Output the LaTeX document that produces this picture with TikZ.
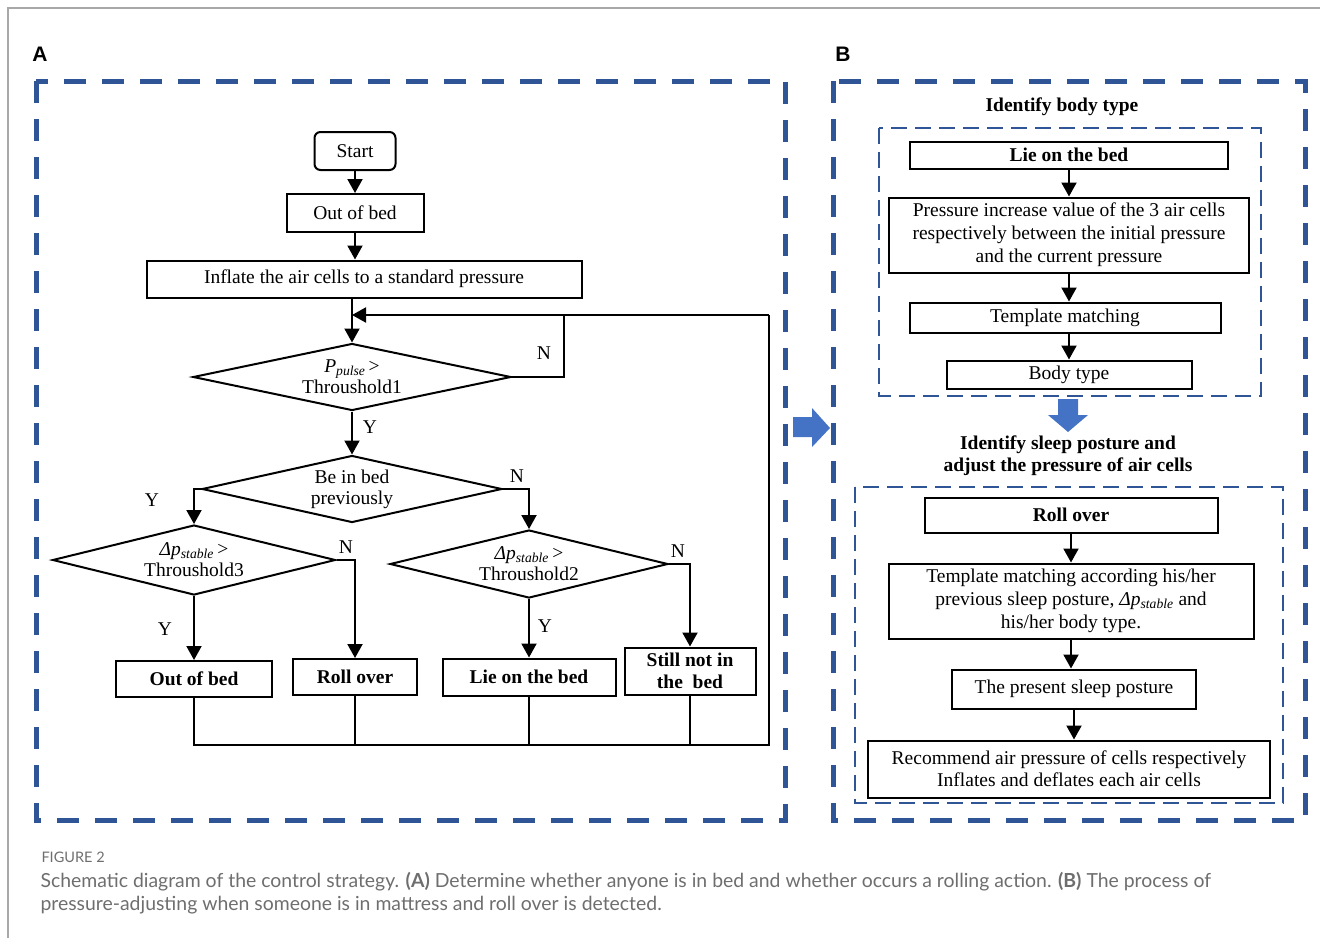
\documentclass[tikz,border=0pt]{standalone}
\usepackage{fontspec}
\setmainfont{Liberation Serif}
\newfontfamily\capfont{Lato}
\newfontfamily\labfont{Liberation Sans}
\usepackage{tikz}
\usetikzlibrary{arrows.meta, positioning, shapes.geometric}
\definecolor{azul}{HTML}{2F5597}
\definecolor{azulclaro}{HTML}{4472C4}
\definecolor{gris}{HTML}{6E6E6E}
\newcommand{\pestable}{\textit{Δp}\textsubscript{\textit{stable}}}

\begin{document}
\begin{tikzpicture}[
  x=1pt, y=-1pt,
  font=\fontsize{19.5}{22}\selectfont,
  caja/.style={rectangle, draw, line width=2pt, align=center, inner sep=0pt},
  cajab/.style={caja, font=\fontsize{19.5}{22}\selectfont\bfseries},
  inicio/.style={caja, rounded corners=6pt},
  rombo/.style={diamond, draw, line width=2pt, aspect=4.5, inner sep=0pt, align=center,
    font=\fontsize{19.5}{21}\selectfont},
  flecha/.style={-{Triangle[length=14pt, width=15pt]}, line width=2pt},
  linea/.style={line width=2pt},
  marco/.style={draw=azul, line width=5pt, dash pattern=on 22pt off 16pt},
  grupo/.style={draw=azul, line width=2.2pt, dash pattern=on 16pt off 8pt},
  bloque/.style={fill=azulclaro},
  etiq/.style={font=\fontsize{19.5}{22}\selectfont},
]
\useasboundingbox (0,0) rectangle (1320,938);
\draw[gris!60, line width=1.5pt] (8,938) -- (8,8) -- (1320,8);

% Rotulos de panel
\node[font=\labfont\fontsize{21}{24}\selectfont\bfseries] (letraA) at (40,54) {A};
\node[font=\labfont\fontsize{21}{24}\selectfont\bfseries] (letraB) at (843,54) {B};

% Marcos
\draw[marco] (36,81) rectangle (785,820);
\draw[marco] (833,81) rectangle (1305,820);
\draw[grupo] (879,128) rectangle (1261,396);
\draw[grupo] (855,487) rectangle (1283,803);

% Panel A
\node[inicio, minimum width=81pt, minimum height=38pt] (inicio) at (355,151) {Start};
\node[caja, minimum width=137pt, minimum height=38pt] (fuera1) at (355,213) {Out of bed};
\node[caja, minimum width=435pt, minimum height=37pt] (inflar) at (364,279) {Inflate the air cells to a standard pressure};
\node[rombo, minimum width=318pt, minimum height=67pt] (pulso) at (352,377) {\textit{P}\textsubscript{\textit{pulse}}\,>\\Throushold1};
\node[rombo, minimum width=300pt, minimum height=67pt] (encama) at (352,489) {Be in bed\\previously};
\node[rombo, minimum width=283pt, minimum height=70pt] (umbral3) at (194,560) {\pestable\,>\\Throushold3};
\node[rombo, minimum width=278pt, minimum height=68pt] (umbral2) at (529,564) {\pestable\,>\\Throushold2};
\node[cajab, minimum width=156pt, minimum height=36pt] (fuera2) at (194,679) {Out of bed};
\node[cajab, minimum width=124pt, minimum height=36pt] (giroA) at (355,677) {Roll over};
\node[cajab, minimum width=131pt, minimum height=47pt, font=\fontsize{19.5}{22}\selectfont\bfseries] (sigue) at (690,671) {Still not in\\the\ \ bed};
\node[cajab, minimum width=173pt, minimum height=37pt] (acostA) at (529,677) {Lie on the bed};

\coordinate (vueltaN) at (564,315);
\coordinate (vueltaR) at (769,315);
\coordinate (vueltaB) at (769,745);

\draw[flecha] (inicio) -- (fuera1);
\draw[flecha] (fuera1.south) -- (fuera1.south |- inflar.north);
\draw[flecha] (pulso.north |- inflar.south) -- (pulso.north);
\draw[linea] (pulso.east) -| (vueltaN);
\draw[linea] (fuera2.south) |- (vueltaB) -- (vueltaR);
\draw[flecha] (vueltaR) -- (pulso.north |- vueltaR);
\draw[flecha] (pulso.south) -- (encama.north);
\draw[flecha] (encama.west) -| (umbral3.north);
\draw[flecha] (encama.east) -| (umbral2.north);
\draw[flecha] (umbral3.east) -| (giroA.north);
\draw[flecha] (umbral3.south) -- (fuera2.north);
\draw[flecha] (umbral2.south) -- (acostA.north);
\draw[flecha] (umbral2.east) -| (sigue.north);
\draw[linea] (giroA.south) -- (giroA.south |- vueltaB);
\draw[linea] (acostA.south) -- (acostA.south |- vueltaB);
\draw[linea] (sigue.south) -- (sigue.south |- vueltaB);

% Etiquetas Y / N
\node[etiq] (n1) at (544,353) {N};
\node[etiq] (y1) at (370,427) {Y};
\node[etiq] (y2) at (152,500) {Y};
\node[etiq] (n2) at (517,476) {N};
\node[etiq] (n3) at (346,547) {N};
\node[etiq] (y3) at (165,629) {Y};
\node[etiq] (n4) at (678,551) {N};
\node[etiq] (y4) at (545,626) {Y};

% Flechas de bloque
\fill[bloque] (793,417) -- (812,417) -- (812,408) -- (830,428) -- (812,447) -- (812,437) -- (793,437) -- cycle;
\fill[bloque] (1058,399) -- (1078,399) -- (1078,415) -- (1088,415) -- (1068,432) -- (1048,415) -- (1058,415) -- cycle;

% Panel B
\node[font=\fontsize{19.5}{22}\selectfont\bfseries] (titulo1) at (1062,107) {Identify body type};
\node[cajab, minimum width=318pt, minimum height=27pt] (acostB) at (1069,155) {Lie on the bed};
\node[caja, minimum width=360pt, minimum height=75pt, font=\fontsize{19.5}{23}\selectfont, below=27pt of acostB] (presion) {Pressure increase value of the 3 air cells\\respectively between the initial pressure\\and the current pressure};
\node[caja, minimum width=311pt, minimum height=30pt, below=28pt of presion, xshift=-4pt] (plantilla) {Template matching};
\node[caja, minimum width=245pt, minimum height=28pt, below=26pt of plantilla, xshift=4pt] (cuerpo) {Body type};
\draw[flecha] (acostB) -- (presion);
\draw[flecha] (presion.south) -- (presion.south |- plantilla.north);
\draw[flecha] (plantilla.south -| cuerpo.north) -- (cuerpo.north);

\node[font=\fontsize{19.5}{22}\selectfont\bfseries, align=center] (titulo2) at (1068,456) {Identify sleep posture and\\adjust the pressure of air cells};
\node[cajab, minimum width=293pt, minimum height=35pt] (giroB) at (1071,515) {Roll over};
\node[caja, minimum width=365pt, minimum height=75pt, font=\fontsize{19.5}{23}\selectfont, below=29pt of giroB] (plantilla2) {Template matching according his/her\\previous sleep posture, \pestable{} and\\his/her body type.};
\node[caja, minimum width=244pt, minimum height=39pt, below=29pt of plantilla2, xshift=3pt] (postura) {The present sleep posture};
\node[caja, minimum width=402pt, minimum height=57pt, font=\fontsize{19.5}{22}\selectfont, below=30pt of postura, xshift=-5pt] (recomienda) {Recommend air pressure of cells respectively\\Inflates and deflates each air cells};
\draw[flecha] (giroB) -- (plantilla2);
\draw[flecha] (plantilla2.south) -- (plantilla2.south |- postura.north);
\draw[flecha] (postura.south) -- (postura.south |- recomienda.north);

% Pie de figura
\node[anchor=west, text=gris, font=\capfont\fontsize{14.5}{16}\selectfont] (fig) at (38,857) {FIGURE 2};
\node[anchor=north west, text=gris, align=left, font=\capfont\fontsize{19.4}{23}\selectfont] (pie) at (37,869) {Schematic diagram of the control strategy. \textbf{(A)} Determine whether anyone is in bed and whether occurs a rolling action. \textbf{(B)} The process of\\pressure-adjusting when someone is in mattress and roll over is detected.};
\end{tikzpicture}
\end{document}
